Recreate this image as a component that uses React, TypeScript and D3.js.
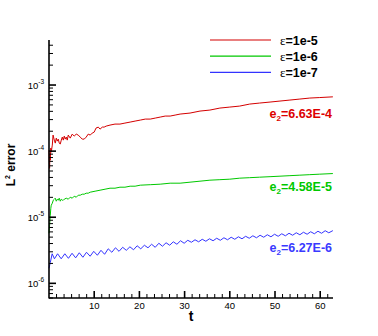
import React from 'react';
import * as d3 from 'd3';

// ---- data ----
const tRed = [0, 0.13, 0.2, 0.29, 0.4, 0.5, 0.73, 0.9, 1.17, 1.39, 1.61, 1.83, 2.05, 2.27, 2.49, 2.72, 2.94, 3.16, 3.38, 3.6, 3.82, 4.04, 4.26, 4.7, 5.14, 5.58, 6.03, 6.47, 6.91, 7.35, 7.79, 8.23, 8.68, 9.12, 9.56, 10.0, 10.2, 10.4, 10.9, 11.3, 11.8, 12.2, 12.65, 13.5, 14.6, 15.7, 16.8, 17.95, 19.05, 20.2, 21.3, 22.4, 23.5, 24.6, 25.7, 26.8, 27.9, 29.0, 31.2, 33.4, 35.6, 37.8, 40.0, 42.2, 44.4, 46.6, 48.9, 51.1, 53.3, 55.5, 57.7, 59.9, 62.8];
const vRed = [1.035e-4, 0.55e-4, 0.87e-4, 0.73e-4, 1.11e-4, 0.966e-4, 1.233e-4, 1.748e-4, 1.468e-4, 1.322e-4, 1.574e-4, 1.418e-4, 1.52e-4, 1.322e-4, 1.277e-4, 1.468e-4, 1.63e-4, 1.468e-4, 1.688e-4, 1.52e-4, 1.63e-4, 1.468e-4, 1.748e-4, 1.574e-4, 1.81e-4, 1.688e-4, 1.81e-4, 1.748e-4, 1.63e-4, 1.52e-4, 1.52e-4, 1.63e-4, 1.81e-4, 1.748e-4, 1.874e-4, 1.941e-4, 2.081e-4, 2.231e-4, 2.31e-4, 2.154e-4, 2.31e-4, 2.31e-4, 2.392e-4, 2.477e-4, 2.565e-4, 2.565e-4, 2.656e-4, 2.75e-4, 2.848e-4, 2.949e-4, 3.054e-4, 3.054e-4, 3.162e-4, 3.274e-4, 3.391e-4, 3.391e-4, 3.511e-4, 3.636e-4, 3.765e-4, 4.037e-4, 4.18e-4, 4.482e-4, 4.641e-4, 4.806e-4, 5.153e-4, 5.336e-4, 5.526e-4, 5.722e-4, 5.925e-4, 6.136e-4, 6.354e-4, 6.466e-4, 6.63e-4];

const tGreen = [0, 0.18, 0.29, 0.4, 0.5, 0.73, 0.95, 1.17, 1.39, 1.61, 1.83, 2.05, 2.27, 2.49, 2.72, 2.94, 3.16, 3.38, 3.82, 4.26, 4.7, 5.14, 5.58, 6.03, 6.47, 6.91, 7.35, 7.79, 8.23, 8.68, 9.12, 10.2, 11.3, 12.4, 13.5, 14.6, 15.7, 16.8, 17.95, 19.05, 20.2, 22.4, 24.6, 26.8, 29.0, 31.2, 33.4, 35.6, 37.8, 40.0, 42.2, 44.4, 46.6, 48.9, 51.1, 53.3, 55.5, 57.7, 59.9, 62.8];
const vGreen = [0.572e-5, 0.839e-5, 1.07e-5, 1.364e-5, 1.52e-5, 1.63e-5, 1.81e-5, 1.874e-5, 1.941e-5, 1.748e-5, 1.874e-5, 1.81e-5, 1.941e-5, 1.748e-5, 1.874e-5, 1.81e-5, 1.81e-5, 1.874e-5, 1.941e-5, 1.874e-5, 2.009e-5, 1.941e-5, 2.081e-5, 2.009e-5, 2.154e-5, 2.154e-5, 2.231e-5, 2.231e-5, 2.31e-5, 2.31e-5, 2.392e-5, 2.477e-5, 2.565e-5, 2.656e-5, 2.75e-5, 2.75e-5, 2.848e-5, 2.848e-5, 2.949e-5, 2.949e-5, 3.054e-5, 3.107e-5, 3.162e-5, 3.274e-5, 3.274e-5, 3.391e-5, 3.511e-5, 3.636e-5, 3.7e-5, 3.765e-5, 3.899e-5, 3.967e-5, 4.037e-5, 4.108e-5, 4.18e-5, 4.254e-5, 4.329e-5, 4.405e-5, 4.482e-5, 4.58e-5];

const tBlue = [0, 0.3, 0.7, 1.2, 1.9, 2.7, 3.5, 4.3, 5.1, 5.9, 6.7, 7.5, 8.3, 9.1, 9.9, 10.7, 11.5, 12.3, 13.1, 13.9, 14.7, 15.5, 16.3, 17.1, 17.9, 18.7, 19.5, 20.3, 21.1, 21.9, 22.7, 23.5, 24.3, 25.1, 25.9, 26.7, 27.5, 28.3, 29.1, 29.9, 30.7, 31.5, 32.3, 33.1, 33.9, 34.7, 35.5, 36.3, 37.1, 37.9, 38.7, 39.5, 40.3, 41.1, 41.9, 42.7, 43.5, 44.3, 45.1, 45.9, 46.7, 47.5, 48.3, 49.1, 49.9, 50.7, 51.5, 52.3, 53.1, 53.9, 54.7, 55.5, 56.3, 57.1, 57.9, 58.7, 59.5, 60.3, 61.1, 61.9, 62.8];
const vBlue = [1.69e-6, 2.08e-6, 2.8e-6, 2.35e-6, 2.8e-6, 2.35e-6, 2.8e-6, 2.39e-6, 2.85e-6, 2.43e-6, 2.9e-6, 2.48e-6, 2.95e-6, 2.57e-6, 3.05e-6, 2.66e-6, 3.16e-6, 2.75e-6, 3.33e-6, 2.95e-6, 3.45e-6, 3.05e-6, 3.51e-6, 3.16e-6, 3.57e-6, 3.22e-6, 3.7e-6, 3.33e-6, 3.77e-6, 3.45e-6, 3.9e-6, 3.51e-6, 4.04e-6, 3.64e-6, 4.11e-6, 3.77e-6, 4.25e-6, 3.9e-6, 4.41e-6, 4.04e-6, 4.48e-6, 4.18e-6, 4.56e-6, 4.25e-6, 4.64e-6, 4.33e-6, 4.72e-6, 4.41e-6, 4.81e-6, 4.48e-6, 4.89e-6, 4.56e-6, 4.98e-6, 4.64e-6, 5.06e-6, 4.72e-6, 5.15e-6, 4.81e-6, 5.24e-6, 4.89e-6, 5.34e-6, 4.98e-6, 5.43e-6, 5.06e-6, 5.53e-6, 5.15e-6, 5.62e-6, 5.24e-6, 5.72e-6, 5.34e-6, 5.82e-6, 5.43e-6, 5.93e-6, 5.53e-6, 6.03e-6, 5.62e-6, 6.14e-6, 5.72e-6, 6.25e-6, 5.82e-6, 6.27e-6];

const seriesNames = ['1e-5', '1e-6', '1e-7'];
const errorLabels = ['6.63E-4', '4.58E-5', '6.27E-6'];
const xMajorTicks = [10, 20, 30, 40, 50, 60];
const yDecades = [-6, -5, -4, -3];

const X_DOMAIN = [0, 62.83];
const Y_DOMAIN = [6e-7, 4.8e-3];

const lineColors = ['#d40000', '#00c800', '#3333ff'];
const textColors = ['#dd0000', '#00c800', '#3a3aff'];

export default function App() {
  const left = 49, right = 333, top = 40, bottom = 298;
  const x = d3.scaleLinear().domain(X_DOMAIN).range([left, right]);
  const y = d3.scaleLog().domain(Y_DOMAIN).range([bottom, top]);

  const line = d3.line<[number, number]>().x(d => x(d[0])).y(d => y(d[1]));
  const series = [
    d3.zip(tRed, vRed) as [number, number][],
    d3.zip(tGreen, vGreen) as [number, number][],
    d3.zip(tBlue, vBlue) as [number, number][],
  ];

  // minor ticks
  const xMinor: number[] = [];
  for (let k = 0; k < 7; k++) {
    for (let j = 1; j < 6; j++) {
      const v = k * 10 + (j * 10) / 6;
      if (v <= X_DOMAIN[1]) xMinor.push(v);
    }
  }
  const yMinor: number[] = [];
  for (let e = -7; e <= -3; e++) {
    for (let m = 2; m <= 9; m++) {
      const v = m * Math.pow(10, e);
      if (v >= Y_DOMAIN[0] && v <= Y_DOMAIN[1]) yMinor.push(v);
    }
  }

  const font = 'Arial, "Liberation Sans", Helvetica, sans-serif';
  const labelY = [y(vRed[vRed.length - 1]) + 21, y(vGreen[vGreen.length - 1]) + 17, y(vBlue[vBlue.length - 1]) + 21];

  return (
    <svg width={378} height={336} style={{ position: 'absolute', left: 0, top: 0, background: '#fff' }} fontFamily={font}>
      {/* series */}
      {series.map((s, i) => (
        <path key={i} d={line(s) || ''} fill="none" stroke={lineColors[i]} strokeWidth={1} />
      ))}

      {/* axes */}
      <line x1={left} y1={top} x2={left} y2={bottom + 0.5} stroke="#000" strokeWidth={1.6} />
      <line x1={left} y1={bottom} x2={right} y2={bottom} stroke="#000" strokeWidth={1.6} />

      {/* y ticks */}
      {yDecades.map(e => {
        const yy = y(Math.pow(10, e));
        return (
          <g key={e}>
            <line x1={left} x2={left + 7} y1={yy} y2={yy} stroke="#000" strokeWidth={1.6} />
            <text x={44} y={yy + 3.5} fontSize={9.5} textAnchor="end" fill="#000">
              <tspan>10</tspan>
              <tspan dy={-4.5} fontSize={6.5}>{String(e)}</tspan>
            </text>
          </g>
        );
      })}
      {yMinor.map((v, i) => (
        <line key={i} x1={left} x2={left + 4} y1={y(v)} y2={y(v)} stroke="#000" strokeWidth={1} />
      ))}

      {/* x ticks */}
      {xMajorTicks.map(t => (
        <g key={t}>
          <line x1={x(t)} x2={x(t)} y1={bottom} y2={bottom - 7} stroke="#000" strokeWidth={1.6} />
          <text x={x(t)} y={309} fontSize={9.5} textAnchor="middle" fill="#000">{t}</text>
        </g>
      ))}
      {xMinor.map((t, i) => (
        <line key={i} x1={x(t)} x2={x(t)} y1={bottom} y2={bottom - 4} stroke="#000" strokeWidth={1} />
      ))}

      {/* axis titles */}
      <text x={(left + right) / 2} y={321} fontSize={14} fontWeight="bold" textAnchor="middle" fill="#000">t</text>
      <text transform="translate(15,165) rotate(-90)" fontSize={12} fontWeight="bold" textAnchor="middle" fill="#000">
        <tspan>L</tspan>
        <tspan dy={-5} fontSize={7}>2</tspan>
        <tspan dy={5}> error</tspan>
      </text>

      {/* legend */}
      {seriesNames.map((n, i) => {
        const ly = 40 + i * 16.2;
        return (
          <g key={n}>
            <line x1={210} x2={271} y1={ly} y2={ly} stroke={lineColors[i]} strokeWidth={1.2} />
            <text x={280} y={ly + 4.5} fontSize={12.5} fill="#000">
              <tspan fontFamily='"Liberation Serif", "DejaVu Serif", serif' fontSize={13}>ε</tspan>
              <tspan fontWeight="bold">={n}</tspan>
            </text>
          </g>
        );
      })}

      {/* error annotations */}
      {errorLabels.map((l, i) => (
        <text key={l} x={332} y={labelY[i]} fontSize={12.5} fontWeight="bold" textAnchor="end" fill={textColors[i]}>
          <tspan>e</tspan>
          <tspan dy={3} fontSize={8}>2</tspan>
          <tspan dy={-3}>={l}</tspan>
        </text>
      ))}
    </svg>
  );
}
